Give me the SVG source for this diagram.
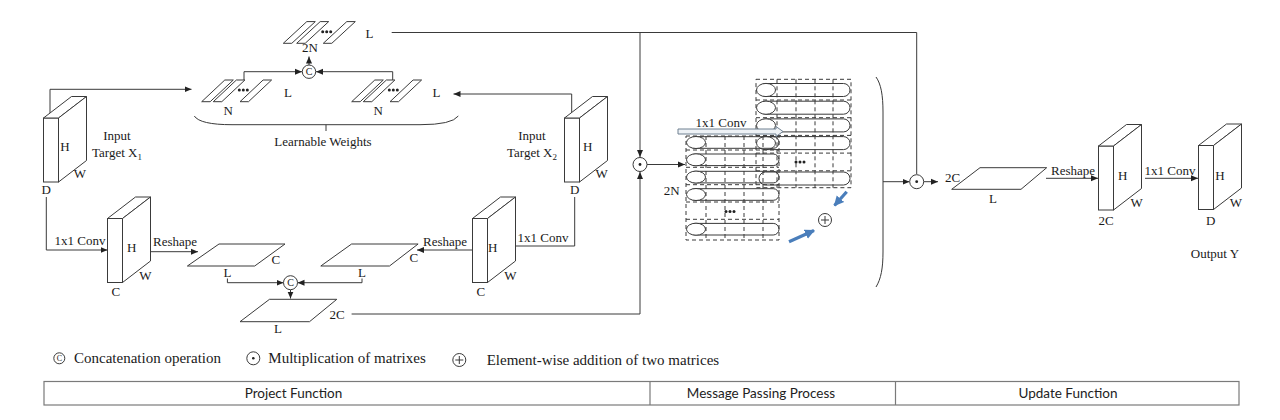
<svg xmlns="http://www.w3.org/2000/svg" width="1280" height="420" viewBox="0 0 1280 420">
<defs>
<style>
.t{font-family:"Liberation Serif","Times New Roman",serif;font-size:13px;fill:#1a1a1a}
.m{text-anchor:middle}
.lg{font-family:"Liberation Serif","Times New Roman",serif;font-size:15px;fill:#1a1a1a}
.tb{font-family:Lato,"Liberation Sans",sans-serif;font-size:13.5px;fill:#222;text-anchor:middle}
.ln{fill:none;stroke:#3a3a3a;stroke-width:1}
.sh{fill:#fff;stroke:#3a3a3a;stroke-width:1}
.ds{fill:none;stroke:#3a3a3a;stroke-width:1;stroke-dasharray:4 3}
.ar{marker-end:url(#ah)}
.blue{fill:none;stroke:#4a7ebb;stroke-width:3.2;marker-end:url(#bh)}
</style>
<marker id="ah" markerWidth="8" markerHeight="8" refX="7" refY="4" orient="auto" markerUnits="userSpaceOnUse"><path d="M0,1 L7,4 L0,7 z" fill="#222"/></marker>
<marker id="bh" markerWidth="12" markerHeight="12" refX="9" refY="6" orient="auto" markerUnits="userSpaceOnUse"><path d="M0,1 L10,6 L0,11 z" fill="#4a7ebb"/></marker>
<g id="dots3"><circle cx="-4" cy="0" r="1.5" fill="#222"/><circle cx="0" cy="0" r="1.5" fill="#222"/><circle cx="4" cy="0" r="1.5" fill="#222"/></g>
</defs>
<rect width="1280" height="420" fill="#fff"/>

<!-- connectors -->
<g id="connectors">
<path class="ln" d="M391.7,32.5 H916.7 V174"/>
<path class="ln ar" d="M640,32.5 V157"/>
<path class="ln ar" d="M50,118 V89.3 H191.5"/>
<path class="ln ar" d="M571.7,118 V94 H453.5"/>
<path class="ln ar" d="M244,80 V71.7 H302"/>
<path class="ln ar" d="M392.7,80 V71.7 H316"/>
<path class="ln ar" d="M309,65 V56.5"/>
<path class="ln ar" d="M46.3,197 V250 H107.5"/>
<path class="ln ar" d="M574.7,197 V246 H499"/>
<path class="ln ar" d="M150.7,251.7 H198"/>
<path class="ln ar" d="M472.5,250 H417"/>
<path class="ln ar" d="M227.4,278.5 V282.7 H283.5"/>
<path class="ln ar" d="M362,278.5 V282.7 H297.5"/>
<path class="ln ar" d="M290.5,289.7 V298.5"/>
<path class="ln ar" d="M351.6,314 H640 V172"/>
<path class="ln ar" d="M647,164.5 H685"/>
<path class="ln ar" d="M883,181.7 H909.5"/>
<path class="ln ar" d="M923.7,181.7 H938"/>
<path class="ln ar" d="M1046,178.3 H1098"/>
<path class="ln ar" d="M1145,178.3 H1198"/>
<path class="blue" d="M846.7,191.7 L834.5,205.5"/>
<path class="blue" d="M789,241.7 L814,230.5"/>
</g>

<!-- learnable weights stacks -->
<g id="stack-top">
<polygon class="sh" points="283.3,43.3 291.8,43.3 315.3,21.6 306.8,21.6"/>
<polygon class="sh" points="296.7,43.3 305.2,43.3 328.7,21.6 320.2,21.6"/>
<polygon class="sh" points="323.3,43.3 331.8,43.3 355.3,21.6 346.8,21.6"/>
<use href="#dots3" x="326.7" y="31.7"/>
<text class="t" x="365.5" y="37.5">L</text>
<text class="t m" x="310" y="52">2N</text>
</g>
<g id="concat-top">
<circle class="sh" cx="309" cy="71.7" r="6.7"/>
<text class="t m" x="309" y="75.3" style="font-size:10px">C</text>
</g>
<g id="stack-left">
<polygon class="sh" points="201.7,101.7 210.2,101.7 233.3,80 224.8,80"/>
<polygon class="sh" points="213.3,101.7 221.8,101.7 244.9,80 236.4,80"/>
<polygon class="sh" points="240,101.7 248.5,101.7 271.6,80 263.1,80"/>
<use href="#dots3" x="243.3" y="90"/>
<text class="t m" x="228.3" y="114.5">N</text>
<text class="t" x="284" y="96.5">L</text>
</g>
<g id="stack-right">
<polygon class="sh" points="351.7,101.7 360.2,101.7 383.3,80 374.8,80"/>
<polygon class="sh" points="363.3,101.7 371.8,101.7 394.9,80 386.4,80"/>
<polygon class="sh" points="390,101.7 398.5,101.7 421.6,80 413.1,80"/>
<use href="#dots3" x="393.3" y="90"/>
<text class="t m" x="378.3" y="114.5">N</text>
<text class="t" x="432.5" y="96.5">L</text>
</g>
<g id="learnable-weights">
<path class="ln" d="M194.3,116 Q200,124.7 232,124.7 H420 Q452,124.7 458.3,116 M326,124.7 V131"/>
<text class="t m" x="323" y="145.5">Learnable Weights</text>
</g>

<!-- input X1 -->
<g id="input-x1">
<rect class="sh" x="43.5" y="118" width="15" height="64"/>
<polygon class="sh" points="43.5,118 58.5,118 86.5,96.5 71.5,96.5"/>
<polygon class="sh" points="58.5,118 86.5,96.5 86.5,160.5 58.5,182"/>
<text class="t m" x="65" y="150.5">H</text>
<text class="t m" x="80" y="178">W</text>
<text class="t m" x="46.3" y="194">D</text>
<text class="t m" x="117" y="140">Input</text>
<text class="t m" x="117" y="157">Target X<tspan style="font-size:9px" dy="3">1</tspan></text>
</g>
<!-- input X2 -->
<g id="input-x2">
<rect class="sh" x="564.5" y="118" width="15" height="64"/>
<polygon class="sh" points="564.5,118 579.5,118 607.5,96.5 592.5,96.5"/>
<polygon class="sh" points="579.5,118 607.5,96.5 607.5,160.5 579.5,182"/>
<text class="t m" x="587.7" y="150.5">H</text>
<text class="t m" x="601.7" y="178">W</text>
<text class="t m" x="574.7" y="194">D</text>
<text class="t m" x="532" y="140">Input</text>
<text class="t m" x="532" y="157">Target X<tspan style="font-size:9px" dy="3">2</tspan></text>
</g>
<!-- conv boxes -->
<g id="conv-left">
<rect class="sh" x="107.5" y="218.5" width="15" height="64"/>
<polygon class="sh" points="107.5,218.5 122.5,218.5 150.5,197 135.5,197"/>
<polygon class="sh" points="122.5,218.5 150.5,197 150.5,261 122.5,282.5"/>
<text class="t m" x="131.8" y="252">H</text>
<text class="t m" x="145.3" y="279.5">W</text>
<text class="t m" x="115.8" y="296">C</text>
<text class="t m" x="80" y="245">1x1 Conv</text>
<text class="t m" x="175" y="246">Reshape</text>
</g>
<g id="conv-right">
<rect class="sh" x="472.5" y="218.5" width="15" height="64"/>
<polygon class="sh" points="472.5,218.5 487.5,218.5 515.5,197 500.5,197"/>
<polygon class="sh" points="487.5,218.5 515.5,197 515.5,261 487.5,282.5"/>
<text class="t m" x="492.6" y="252">H</text>
<text class="t m" x="510.3" y="279.5">W</text>
<text class="t m" x="480.8" y="296">C</text>
<text class="t m" x="543" y="242">1x1 Conv</text>
<text class="t m" x="445" y="246">Reshape</text>
</g>
<!-- reshaped matrices -->
<g id="mat-left">
<polygon class="sh" points="187.4,266 219,244 285,244 254.7,266"/>
<text class="t m" x="275.8" y="263.5">C</text>
<text class="t m" x="227.4" y="277">L</text>
</g>
<g id="mat-right">
<polygon class="sh" points="320.8,266 351.6,244 418.1,244 389.5,266"/>
<text class="t m" x="413.9" y="261.5">C</text>
<text class="t m" x="362" y="277">L</text>
</g>
<g id="concat-bottom">
<circle class="sh" cx="290.5" cy="282.7" r="7"/>
<text class="t m" x="290.5" y="286.3" style="font-size:10px">C</text>
</g>
<g id="mat-2c">
<polygon class="sh" points="240,321.7 269.5,299.3 336.8,299.3 309.5,321.7"/>
<text class="t m" x="337" y="319">2C</text>
<text class="t m" x="278" y="333">L</text>
</g>
<g id="mult-left">
<circle class="sh" cx="640" cy="164.5" r="7"/>
<circle cx="640" cy="164.5" r="1.4" fill="#222"/>
</g>

<!-- message passing grids -->
<g id="grid-right">
<rect x="756" y="79.3" width="95" height="108.4" fill="#fff" class="ds"/>
<path class="ds" d="M756,100 H851 M756,117.7 H851 M756,135.4 H851 M756,153.1 H851 M756,170.8 H851"/>
<rect class="ln" x="759" y="83.5" width="91" height="13" rx="6.5"/>
<rect class="ln" x="759" y="101.2" width="91" height="13" rx="6.5"/>
<rect class="ln" x="759" y="118.9" width="91" height="13" rx="6.5"/>
<rect class="ln" x="759" y="136.6" width="91" height="13" rx="6.5"/>
<rect class="ln" x="759" y="172" width="91" height="13" rx="6.5"/>
<ellipse class="sh" cx="766" cy="90" rx="9.5" ry="6.6"/>
<ellipse class="sh" cx="766" cy="107.7" rx="9.5" ry="6.6"/>
<ellipse class="sh" cx="766" cy="125.4" rx="9.5" ry="6.6"/>
<ellipse class="sh" cx="766" cy="143.1" rx="9.5" ry="6.6"/>
<path class="ds" d="M777,79.3 V187.7 M796,79.3 V187.7 M815,79.3 V187.7 M833,79.3 V187.7"/>
<use href="#dots3" x="800" y="162"/>
</g>
<g id="grid-left">
<rect x="686" y="136" width="93" height="104" fill="#fff" class="ds"/>
<path class="ds" d="M686,150 H779 M686,167.3 H779 M686,184.7 H779 M686,202 H779 M686,219.3 H779"/>
<rect class="ln" x="689" y="136.7" width="90" height="11.6" rx="5.8"/>
<rect class="ln" x="689" y="154" width="90" height="11.6" rx="5.8"/>
<rect class="ln" x="689" y="171.3" width="90" height="11.6" rx="5.8"/>
<rect class="ln" x="689" y="188.7" width="90" height="11.6" rx="5.8"/>
<rect class="ln" x="689" y="223.4" width="90" height="11.6" rx="5.8"/>
<ellipse class="sh" cx="696" cy="142.5" rx="9.5" ry="6"/>
<ellipse class="sh" cx="696" cy="159.8" rx="9.5" ry="6"/>
<ellipse class="sh" cx="696" cy="177.1" rx="9.5" ry="6"/>
<ellipse class="sh" cx="696" cy="194.5" rx="9.5" ry="6"/>
<ellipse class="sh" cx="696" cy="229.2" rx="9.5" ry="6"/>
<path class="ds" d="M706,136 V240 M725,136 V240 M744,136 V240 M763,136 V240"/>
<use href="#dots3" x="730" y="211.5"/>
<text class="t m" x="671.7" y="194.5">2N</text>
</g>
<g id="conv-arrow">
<polygon points="678,129 776,129 776,126.5 783,131.5 776,136.5 776,134 678,134" fill="#eef2f6" stroke="#6f8091" stroke-width="1"/>
<text class="t m" x="721" y="126.5">1x1 Conv</text>
</g>
<g id="add-op">
<circle class="sh" cx="825" cy="220" r="6.5"/>
<path class="ln" d="M821,220 H829 M825,216 V224"/>
</g>
<g id="bracket">
<path class="ln" d="M876,77 C881,84 883,95 883,112 L883,252 C883,268 881,279 876,287"/>
</g>

<!-- update function -->
<g id="mult-right">
<circle class="sh" cx="916.7" cy="181.7" r="7"/>
<circle cx="916.7" cy="181.7" r="1.4" fill="#222"/>
</g>
<g id="mat-out">
<polygon class="sh" points="951.7,189.3 980,167.7 1046.7,167.7 1021,189.3"/>
<text class="t m" x="952.5" y="182">2C</text>
<text class="t m" x="993" y="203">L</text>
<text class="t m" x="1073" y="175">Reshape</text>
</g>
<g id="box-2c">
<rect class="sh" x="1098.5" y="146" width="15" height="64"/>
<polygon class="sh" points="1098.5,146 1113.5,146 1141.5,124.5 1126.5,124.5"/>
<polygon class="sh" points="1113.5,146 1141.5,124.5 1141.5,188.5 1113.5,210"/>
<text class="t m" x="1122.7" y="179.5">H</text>
<text class="t m" x="1136.7" y="207">W</text>
<text class="t m" x="1106" y="224.5">2C</text>
<text class="t m" x="1170" y="175">1x1 Conv</text>
</g>
<g id="box-out">
<rect class="sh" x="1198.5" y="145.5" width="15" height="64"/>
<polygon class="sh" points="1198.5,145.5 1213.5,145.5 1241.5,124 1226.5,124"/>
<polygon class="sh" points="1213.5,145.5 1241.5,124 1241.5,188 1213.5,209.5"/>
<text class="t m" x="1220" y="179.5">H</text>
<text class="t m" x="1236" y="207">W</text>
<text class="t m" x="1210.7" y="224.5">D</text>
<text class="t m" x="1215" y="258">Output Y</text>
</g>

<!-- legend -->
<g id="legend">
<circle class="sh" cx="59.3" cy="358.3" r="5.5"/>
<text class="t m" x="59.3" y="361.3" style="font-size:8px">C</text>
<text class="lg" x="74" y="363">Concatenation operation</text>
<circle class="sh" cx="253.3" cy="358.3" r="6.5"/>
<circle cx="253.3" cy="358.3" r="1.3" fill="#222"/>
<text class="lg" x="268.3" y="363">Multiplication of matrixes</text>
<circle class="sh" cx="459.3" cy="360" r="6.5"/>
<path class="ln" d="M455.3,360 H463.3 M459.3,356 V364"/>
<text class="lg" x="486.7" y="364.5">Element-wise addition of two matrices</text>
</g>
<g id="phase-table">
<rect x="44" y="381.5" width="1195" height="23.5" fill="#fff" stroke="#7a7a7a" stroke-width="1.2"/>
<path d="M650,381.5 V405 M895.5,381.5 V405" stroke="#7a7a7a" stroke-width="1.2"/>
<text class="tb" x="293.5" y="398">Project Function</text>
<text class="tb" x="761" y="398">Message Passing Process</text>
<text class="tb" x="1068" y="398">Update Function</text>
</g>
</svg>
